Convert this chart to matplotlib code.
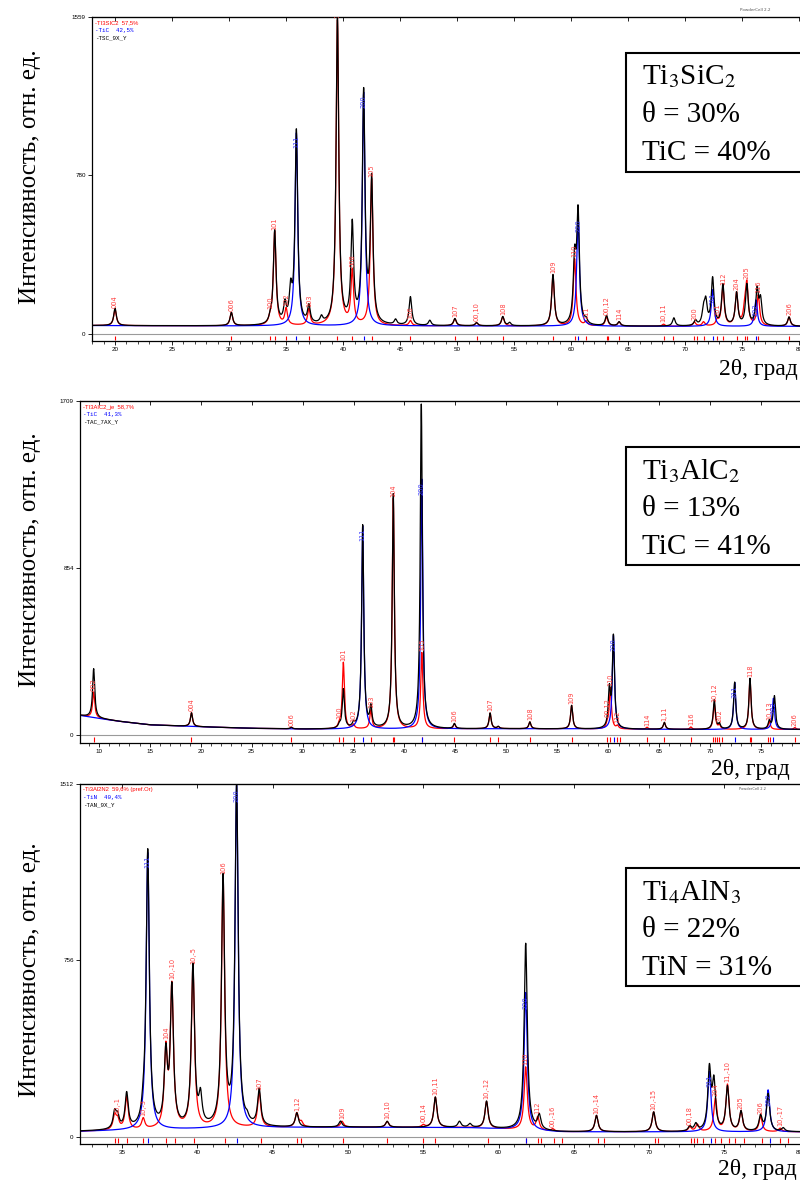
import numpy as np
import matplotlib
matplotlib.use("Agg")
import matplotlib.pyplot as plt
from matplotlib.patches import Rectangle

plt.rcParams["mathtext.fontset"] = "stix"

# ---------------- Ti3SiC2 + TiC ----------------
tsc_bg_x = [18, 30, 50, 70, 80.5]
tsc_bg_y = [42, 40, 40, 38, 38]
tsc_red_pos = [20.0, 30.2, 33.6, 34.0, 35.0, 37.0, 39.5, 40.8, 42.5, 45.9, 49.8, 51.7, 54.0, 58.4,
               60.3, 61.3, 63.1, 64.2, 68.1, 70.8, 71.6, 72.8, 73.3, 74.5, 75.2, 75.4, 76.4, 79.1]
tsc_red_h = [80, 65, 25, 460, 80, 80, 1500, 260, 720, 25, 35, 15, 45, 250,
             330, 20, 45, 20, 10, 20, 20, 25, 190, 160, 60, 200, 150, 45]
tsc_red_lab = ["004", "006", "100", "101", "102", "103", "104", "008", "105", "106", "107", "00,10", "108", "109",
               "110", "111", "00,12", "114", "10,11", "200", "", "201", "112", "204", "", "205", "116", "206"]
tsc_blue_pos = [35.9, 41.8, 60.6, 72.4, 76.2]
tsc_blue_h = [950, 1150, 540, 180, 130]
tsc_blue_lab = ["111", "200", "220", "311", "222"]
tsc_obs_pos = [20.0, 30.2, 33.6, 34.0, 34.9, 35.4, 35.9, 37.0, 38.1, 39.5, 40.8, 41.8, 42.5, 44.6, 45.9,
               47.6, 49.8, 51.7, 54.0, 54.6, 58.4, 60.3, 60.6, 61.3, 63.1, 64.2, 69.0, 70.9, 71.6, 71.8,
               72.4, 73.3, 74.5, 75.4, 76.3, 76.6, 79.1]
tsc_obs_h = [85, 65, 20, 460, 90, 150, 950, 85, 30, 1520, 480, 1130, 700, 25, 140,
             25, 35, 15, 45, 15, 250, 300, 540, 20, 50, 20, 40, 25, 70, 110,
             230, 200, 160, 200, 170, 120, 45]
tsc_red_ticks = [20.0, 30.2, 33.6, 34.0, 35.0, 37.0, 39.5, 40.8, 42.5, 45.9, 49.8, 51.7, 54.0, 58.4, 60.3,
                 61.3, 63.1, 63.2, 64.2, 68.1, 68.9, 70.8, 71.0, 71.6, 72.8, 73.3, 74.5, 75.2, 75.4, 76.4, 79.1]
tsc_blue_ticks = [35.9, 41.8, 60.6, 72.4, 76.2]

# ---------------- Ti3AlC2 + TiC ----------------
tac_bg_x = [8.2, 10, 12, 15, 20, 25, 30, 40, 50, 60, 70, 79.3]
tac_bg_y = [100, 85, 70, 52, 42, 34, 30, 30, 32, 30, 28, 28]
tac_red_pos = [9.5, 19.1, 28.9, 33.6, 34.0, 35.0, 36.7, 38.9, 41.7, 44.9, 48.4, 49.2, 52.3, 56.4, 59.9,
               60.2, 60.9, 63.8, 65.5, 68.1, 70.4, 70.9, 73.9, 75.8, 78.3]
tac_red_h = [130, 70, 8, 15, 340, 20, 95, 1180, 390, 25, 80, 10, 35, 120, 20,
             210, 15, 10, 35, 12, 130, 20, 260, 40, 10]
tac_red_lab = ["002", "004", "006", "100", "101", "102", "103", "104", "105", "106", "107", "", "108", "109", "00,12",
               "110", "112", "114", "1,11", "116", "10,12", "202", "118", "10,13", "206"]
tac_blue_pos = [35.9, 41.7, 60.5, 72.4, 76.2]
tac_blue_h = [1040, 1280, 480, 240, 160]
tac_blue_lab = ["111", "200", "220", "311", "222"]
tac_obs_pos = [9.5, 19.1, 28.9, 33.6, 34.0, 35.0, 35.9, 36.7, 38.9, 41.65, 44.9, 48.4, 49.2, 52.3, 56.4,
               60.1, 60.5, 65.5, 70.4, 70.9, 72.4, 73.9, 75.8, 76.3]
tac_obs_h = [250, 70, 8, 15, 200, 20, 1040, 100, 1200, 1660, 25, 80, 10, 35, 120,
             190, 470, 35, 150, 25, 240, 260, 40, 170]
tac_red_ticks = [9.5, 19.1, 28.9, 33.6, 34.0, 35.0, 36.7, 38.9, 39.0, 41.7, 44.9, 48.4, 49.2, 52.3, 56.4,
                 59.9, 60.2, 60.9, 61.1, 63.8, 65.5, 68.1, 70.3, 70.5, 70.7, 70.9, 71.2, 73.9, 74.0,
                 75.7, 75.9, 78.3]
tac_blue_ticks = [35.9, 41.7, 60.6, 72.4, 76.2]

# ---------------- Ti4AlN3 + TiN ----------------
tan_bg_x = [32.2, 38, 44, 50, 58, 61, 64, 70, 80.35]
tan_bg_y = [22, 30, 38, 40, 38, 30, 20, 20, 20]
tan_red_pos = [34.5, 34.7, 35.3, 36.4, 37.9, 38.3, 39.7, 41.7, 44.1, 46.6, 46.9, 49.6, 52.6, 55.0,
               55.8, 59.2, 61.8, 62.6, 63.6, 66.5, 70.3, 72.7, 73.2, 74.4, 75.2, 76.1, 77.4, 78.7]
tan_red_h = [60, 40, 140, 45, 320, 600, 690, 1080, 150, 60, 20, 25, 25, 10,
             130, 115, 270, 55, 10, 70, 85, 20, 30, 140, 200, 85, 65, 15]
tan_red_lab = ["", "10,-1", "", "10,-3", "104", "10,-10", "10,-5", "106", "107", "1,12", "", "109", "10,10", "00,14",
               "10,11", "10,-12", "110", "112", "00,-16", "10,-14", "10,-15", "00,18", "", "204", "11,-10", "205",
               "206", "10,-17"]
tan_blue_pos = [36.7, 42.6, 61.8, 74.0, 77.9]
tan_blue_h = [1190, 1470, 590, 260, 180]
tan_blue_lab = ["111", "200", "220", "311", "222"]
tan_obs_pos = [34.5, 34.7, 35.3, 36.4, 36.7, 37.9, 38.3, 39.7, 40.2, 41.7, 42.6, 43.3, 44.1, 46.6, 49.5,
               52.6, 55.8, 57.4, 58.1, 59.2, 61.8, 62.7, 66.5, 70.3, 72.7, 73.1, 74.0, 74.3, 75.2, 76.1,
               77.4, 77.9, 78.9]
tan_obs_h = [70, 50, 150, 40, 1190, 300, 590, 690, 120, 1060, 1470, 20, 155, 60, 25,
             25, 130, 25, 15, 115, 800, 60, 70, 85, 20, 30, 260, 200, 190, 85,
             65, 160, 15]
tan_red_ticks = [34.5, 34.7, 35.3, 36.4, 37.9, 38.5, 39.8, 41.8, 44.2, 46.6, 46.9, 49.7, 52.6, 55.0, 55.8,
                 59.3, 61.8, 62.6, 62.8, 63.7, 64.2, 66.6, 67.0, 70.4, 70.6, 72.8, 73.0, 73.2, 73.6, 74.4,
                 74.8, 75.3, 75.7, 76.3, 77.5, 78.7, 79.2]
tan_blue_ticks = [36.7, 42.6, 61.8, 74.1, 78.0]

W, H = 800, 1185
RED = "#ff0000"
BLUE = "#0000ff"


def fx(px):
    return px / W


def fy(py):
    return 1 - py / H


def lor(x, pos, hts, w):
    y = np.zeros_like(x)
    for p, h in zip(pos, hts):
        y = y + h / (1 + ((x - p) / (w / 2)) ** 2)
    return y


fig = plt.figure(figsize=(W / 100, H / 100), dpi=100)


def panel(box, xlim, ylim, ymid, bgx, bgy, rp, rh, rl, bp, bh, bl, op, oh, rt, bt, w, legend):
    l, t, r, b = box
    ax = fig.add_axes([fx(l), fy(b), fx(r) - fx(l), fy(t) - fy(b)])
    x = np.linspace(xlim[0], xlim[1], 6000)
    bg = np.interp(x, bgx, bgy)
    red = bg + lor(x, rp, rh, w)
    blue = bg + lor(x, bp, bh, w)
    obs = bg + lor(x, op, oh, w)
    ax.plot(x, red, color=RED, lw=0.9)
    ax.plot(x, blue, color=BLUE, lw=0.9)
    ax.plot(x, obs, color="black", lw=0.9)

    # hkl labels on the calculated peaks
    for p, lab in zip(rp, rl):
        if lab:
            ax.text(p, np.interp(p, x, red) + 8, lab, rotation=90, ha="center", va="bottom",
                    fontsize=4.8, color="#ff4040", family="DejaVu Sans", clip_on=True)
    for p, lab in zip(bp, bl):
        ax.text(p, np.interp(p, x, blue) - 15, lab, rotation=90, ha="center", va="top",
                fontsize=4.8, color="#4040ff", family="DejaVu Sans", clip_on=True)

    # reflection ticks strip
    d = -ylim[0]
    ax.axhline(0, color="#9a9a9a", lw=0.8)
    ax.vlines(rt, -0.25 * d, -0.9 * d, color=RED, lw=0.8)
    ax.vlines(bt, -0.25 * d, -0.9 * d, color=BLUE, lw=0.8)

    ax.set_xlim(xlim)
    ax.set_ylim(ylim)
    ax.set_yticks([0, ymid, ylim[1]])
    ax.set_yticklabels(["0", str(ymid), str(ylim[1])])
    ax.set_xticks(np.arange(5 * np.ceil(xlim[0] / 5), xlim[1], 5))
    ax.set_xticks(np.arange(np.ceil(xlim[0]), xlim[1], 1), minor=True)
    ax.set_xticklabels([str(int(v)) for v in ax.get_xticks()])
    ax.tick_params(axis="both", which="major", direction="out", length=3, width=0.6,
                   labelsize=4.5, pad=1.5)
    ax.tick_params(axis="x", which="minor", direction="out", length=2, width=0.5)
    for s in ax.spines.values():
        s.set_linewidth(0.9)
    for lab in ax.get_xticklabels() + ax.get_yticklabels():
        lab.set_family("Liberation Sans")
    top = ax.secondary_xaxis("top")
    top.set_xticks(ax.get_xticks())
    top.tick_params(direction="in", length=3, width=0.6, labeltop=False)

    cols = [RED, BLUE, "black"]
    fams = ["Liberation Sans", "Liberation Mono", "Liberation Mono"]
    for i, txt in enumerate(legend):
        fig.text(fx(l + 3), fy(t + 6 + 7.5 * i), txt, color=cols[i], fontsize=4.2,
                 family=fams[i], va="center")
    return ax


panel((92, 17, 805, 341), (17.98, 80.5), (-34, 1559), 780,
      tsc_bg_x, tsc_bg_y, tsc_red_pos, tsc_red_h, tsc_red_lab, tsc_blue_pos, tsc_blue_h, tsc_blue_lab,
      tsc_obs_pos, tsc_obs_h, tsc_red_ticks, tsc_blue_ticks, 0.28,
      ["-TI3SIC2  57,5%", "-TiC  42,5%", "-TSC_9X_Y"])
panel((80, 401, 805, 743), (8.16, 79.3), (-41, 1709), 854,
      tac_bg_x, tac_bg_y, tac_red_pos, tac_red_h, tac_red_lab, tac_blue_pos, tac_blue_h, tac_blue_lab,
      tac_obs_pos, tac_obs_h, tac_red_ticks, tac_blue_ticks, 0.25,
      ["-TI3AIC2_je  58,7%", "-TiC  41,3%", "-TAC_7AX_Y"])
panel((80, 784, 805, 1144), (32.2, 80.35), (-32, 1512), 756,
      tan_bg_x, tan_bg_y, tan_red_pos, tan_red_h, tan_red_lab, tan_blue_pos, tan_blue_h, tan_blue_lab,
      tan_obs_pos, tan_obs_h, tan_red_ticks, tan_blue_ticks, 0.25,
      ["-Ti3Al2N2  59,6% (pref.Or)", "-TiN  40,4%", "-TAN_9X_Y"])

fig.text(fx(755), fy(10), "PowderCell 2.2", fontsize=3, color="#555555", ha="center", va="center")
fig.text(fx(752), fy(789), "PowderCell 2.2", fontsize=2.6, color="#555555", ha="center", va="center")

serif = "Liberation Serif"
ylab = "Интенсивность, отн. ед."
for yc in [177, 560, 970]:
    fig.text(fx(30), fy(yc), ylab, rotation=90, fontsize=18, family=serif, ha="center", va="center")
for xr, yc in [(798, 370), (790, 770), (797, 1170)]:
    fig.text(fx(xr), fy(yc), "2θ, град", fontsize=17, family=serif, ha="right", va="center")

boxes = [
    (53, 172, [r"Ti$_3$SiC$_2$", "θ = 30%", "TiC = 40%"]),
    (447, 565, [r"Ti$_3$AlC$_2$", "θ = 13%", "TiC = 41%"]),
    (868, 986, [r"Ti$_4$AlN$_3$", "θ = 22%", "TiN = 31%"]),
]
for top_px, bot_px, lines in boxes:
    fig.patches.append(Rectangle((fx(626), fy(bot_px)), fx(820) - fx(626), fy(top_px) - fy(bot_px),
                                 transform=fig.transFigure, fill=True, facecolor="white",
                                 edgecolor="black", lw=1.5, zorder=5))
    for i, s in enumerate(lines):
        fig.text(fx(642), fy(top_px + 24 + 38 * i), s, fontsize=21, family=serif,
                 va="center", ha="left", zorder=6)

fig.savefig("out.png", dpi=100)
